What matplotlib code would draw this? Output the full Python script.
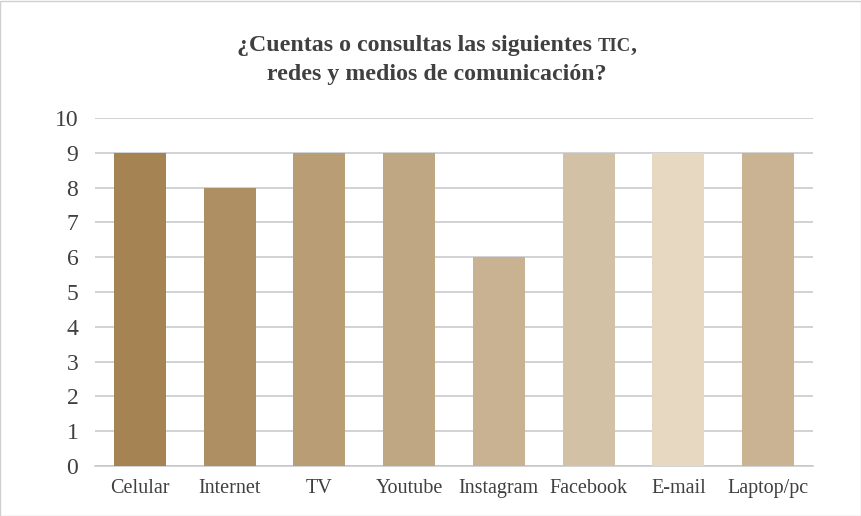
import matplotlib
matplotlib.use("Agg")
import matplotlib.pyplot as plt
from matplotlib.patches import Rectangle

categories = ["Celular", "Internet", "TV", "Youtube", "Instagram", "Facebook", "E-mail", "Laptop/pc"]
values = [9, 8, 9, 9, 6, 9, 9, 9]
colors = ["#A68352", "#AE8F63", "#B89D75", "#C0A783", "#C9B292", "#D3C1A5", "#E7D8C2", "#CAB393"]
yticks = list(range(0, 11))

W, H = 862, 516
fig = plt.figure(figsize=(W / 100, H / 100), dpi=100)
fig.patch.set_facecolor("white")
fig.add_artist(Rectangle((0.5 / W, 0.5 / H), 1 - 1.5 / W, 1 - 1.5 / H, transform=fig.transFigure,
                         fill=False, edgecolor="#D0D0D0", linewidth=1))

ax = fig.add_axes([95 / W, 1 - 466 / H, (813 - 95) / W, (466 - 118) / H])
x = list(range(len(categories)))
ax.bar(x, values, width=0.58, color=colors, zorder=3)
ax.set_xlim(-0.5, len(categories) - 0.5)
ax.set_ylim(0, 10)
ax.set_yticks(yticks)
ax.set_yticklabels([str(t) for t in yticks])
ax.set_xticks(x)
ax.set_xticklabels(categories)
serif = "Liberation Serif"
for lab in ax.get_yticklabels():
    lab.set_fontfamily(serif); lab.set_fontsize(17); lab.set_color("#404040")
for lab in ax.get_xticklabels():
    lab.set_fontfamily(serif); lab.set_fontsize(14.5); lab.set_color("#404040")
    lab.set_verticalalignment("baseline")
ax.tick_params(axis="y", length=0, pad=12)
ax.tick_params(axis="x", length=0, pad=19.5)
ax.grid(axis="y", color="#C4C6CA", linewidth=1.1, zorder=0)
for s in ["top", "right", "left"]:
    ax.spines[s].set_visible(False)
ax.spines["bottom"].set_color("#C4C6CA")
ax.spines["bottom"].set_linewidth(1.1)

# Title with small caps "TIC"
fig.canvas.draw()
r = fig.canvas.get_renderer()
tcolor = "#404040"
fs = 17.2
pieces = [("¿Cuentas o consultas las siguientes ", fs), ("TIC", fs * 0.78), (",", fs)]
texts = []
for s, f in pieces:
    t = fig.text(0, 0, s, fontfamily=serif, fontweight="bold", fontsize=f, color=tcolor,
                 ha="left", va="baseline")
    texts.append(t)
widths = [t.get_window_extent(r).width for t in texts]
total = sum(widths)
cx = 437
y1 = H - 51
xx = cx - total / 2
for t, w in zip(texts, widths):
    t.set_position((xx / W, y1 / H))
    xx += w
fig.text(cx / W, (H - 80) / H, "redes y medios de comunicación?", fontfamily=serif, fontweight="bold",
         fontsize=fs, color=tcolor, ha="center", va="baseline")

fig.savefig("out.png", dpi=100)
